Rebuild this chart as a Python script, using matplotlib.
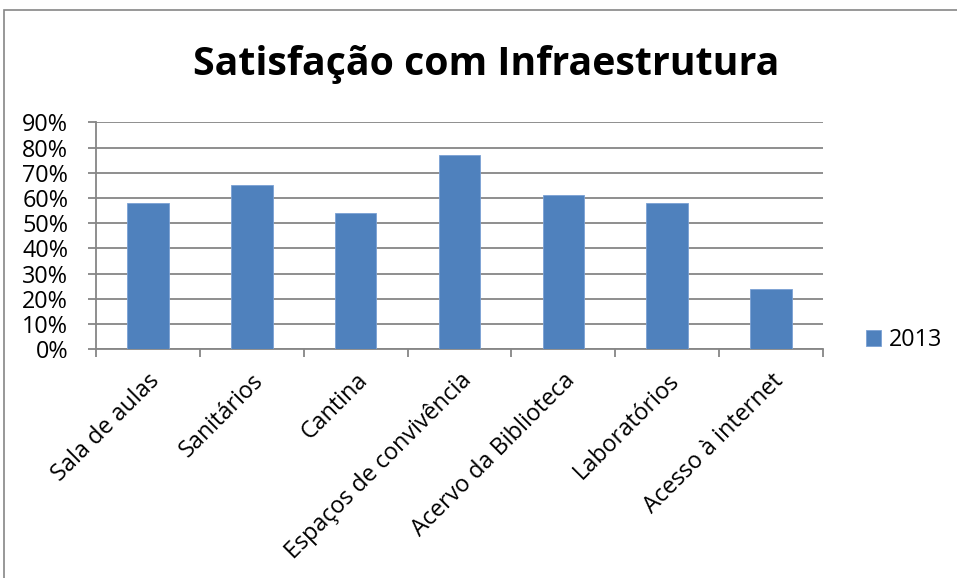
import matplotlib.pyplot as plt
import numpy as np
from matplotlib.patches import Rectangle

categorias = ['Sala de aulas', 'Sanitários', 'Cantina', 'Espaços de convivência',
              'Acervo da Biblioteca', 'Laboratórios', 'Acesso à internet']
valores_2013 = [58, 65, 54, 77, 61, 58, 24]
yticks = [0, 10, 20, 30, 40, 50, 60, 70, 80, 90]

plt.rcParams['font.family'] = ['Open Sans', 'DejaVu Sans']
cinza = '#868686'
azul = '#4f81bd'
fs = 16.8

fig = plt.figure(figsize=(9.57, 5.78), dpi=100)
# borda do gráfico
fig.patches.append(Rectangle((4 / 957, -0.01), 1.0, 1 - 10 / 578 + 0.01,
                             transform=fig.transFigure, fill=False,
                             edgecolor=cinza, linewidth=1.2))

ax = fig.add_axes([0.1003, 0.3957, 0.7597, 0.3927])
x = np.arange(len(categorias))
ax.bar(x, valores_2013, width=0.4, color=azul, edgecolor='#7aa1d4', linewidth=0.6,
       label='2013', zorder=3)

ax.set_xlim(-0.5, len(categorias) - 0.5)
ax.set_ylim(0, 90)
ax.set_yticks(yticks)
ax.set_yticklabels([f'{v}%' for v in yticks], fontsize=fs)
ax.yaxis.grid(True, color=cinza, linewidth=1.3, zorder=0)

ax.set_xticks(x)
ax.set_xticklabels(categorias, rotation=45, ha='right', rotation_mode='anchor',
                   fontsize=fs)
ax.set_xticks(np.arange(-0.5, len(categorias)), minor=True)
ax.tick_params(axis='x', which='major', length=0, pad=14)
ax.tick_params(axis='x', which='minor', length=6, color=cinza, width=1.3)
ax.tick_params(axis='y', length=6, color=cinza, width=1.3, pad=14)

for s in ['top', 'right']:
    ax.spines[s].set_visible(False)
for s in ['left', 'bottom']:
    ax.spines[s].set_color(cinza)
    ax.spines[s].set_linewidth(1.3)

fig.text(0.508, 0.888, 'Satisfação com Infraestrutura', ha='center', va='center',
         fontsize=28.3, fontweight='bold')

ax.legend(loc='center left', bbox_to_anchor=(1.059, 0.04), frameon=False,
          fontsize=fs, handlelength=0.65, handleheight=0.65, handletextpad=0.35,
          borderaxespad=0, borderpad=0)

fig.savefig('out.png', dpi=100)
